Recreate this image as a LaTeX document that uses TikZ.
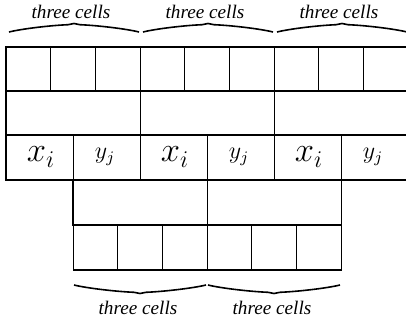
\documentclass[tikz,border=0pt]{standalone}
\usepackage{fontspec}
\setmainfont{Liberation Serif}
\newfontfamily\lserif{Liberation Serif}
\usetikzlibrary{calc}
\begin{document}
\begin{tikzpicture}[x=0.5pt,y=-0.5pt,
  grid/.style={draw=black,line width=0.55pt},
  brc/.style={draw=black,line width=0.8pt,line join=round},
  lbl/.style={font=\lserif\fontsize{9.6}{11}\selectfont\itshape,inner sep=0pt},
  xl/.style={font=\fontsize{16.5}{19}\selectfont,inner sep=0pt},
  yl/.style={font=\fontsize{12}{14}\selectfont,inner sep=0pt}]
\useasboundingbox (0,0) rectangle (406,322);
\begin{scope}
\clip (0,0) rectangle (406,322);
% top row: nine cells
\foreach \i in {0,...,8}{
  \draw[grid] ({6+\i*44.7},47) rectangle ({6+(\i+1)*44.7},91);
}
% second row
\foreach \i in {0,1,2}{
  \draw[grid] ({6+\i*134.1},91) rectangle ({6+(\i+1)*134.1},135);
}
% third row
\foreach \i in {0,...,5}{
  \draw[grid] ({6+\i*67.05},135) rectangle ({6+(\i+1)*67.05},180);
}
% top braces
\foreach \a/\n in {9/1,143/2,277/3}{
  \coordinate (ta\n) at (\a,32);
  \coordinate (tm\n) at ({\a+65},23.5);
  \coordinate (tb\n) at ({\a+130},32);
  \draw[brc] (ta\n) .. controls ($(ta\n)+(12,-3)$) and ($(tm\n)+(-25,2)$) .. ($(tm\n)+(-6,1.2)$)
     -- (tm\n) -- ($(tm\n)+(6,1.2)$)
     .. controls ($(tm\n)+(25,2)$) and ($(tb\n)+(-12,-3)$) .. (tb\n);
}
\end{scope}
% fourth row
\draw[grid] (73,180) rectangle (207.1,225);
\draw[grid] (207.1,180) rectangle (341.2,225);
% fifth row
\foreach \i in {0,...,5}{
  \draw[grid] ({73.05+\i*44.7},225) rectangle ({73.05+(\i+1)*44.7},270);
}
% labels in third row
\node[xl] (x1) at (41,157) {$x_i$};
\node[yl] (y1) at (105,157) {$y_j$};
\node[xl] (x2) at (175,157) {$x_i$};
\node[yl] (y2) at (239,157) {$y_j$};
\node[xl] (x3) at (309,157) {$x_i$};
\node[yl] (y3) at (373,157) {$y_j$};
% top labels
\node[lbl] (t1) at (71,12) {three cells};
\node[lbl] (t2) at (205,12) {three cells};
\node[lbl] (t3) at (339,12) {three cells};
% bottom braces
\foreach \a/\n in {74/1,208/2}{
  \coordinate (ba\n) at (\a,285);
  \coordinate (bm\n) at ({\a+66},293.5);
  \coordinate (bb\n) at ({\a+132},285);
  \draw[brc] (ba\n) .. controls ($(ba\n)+(12,3)$) and ($(bm\n)+(-25,-2)$) .. ($(bm\n)+(-6,-1.2)$)
     -- (bm\n) -- ($(bm\n)+(6,-1.2)$)
     .. controls ($(bm\n)+(25,-2)$) and ($(bb\n)+(-12,3)$) .. (bb\n);
}
\node[lbl] (b1) at (138,308) {three cells};
\node[lbl] (b2) at (272,308) {three cells};
\end{tikzpicture}
\end{document}
